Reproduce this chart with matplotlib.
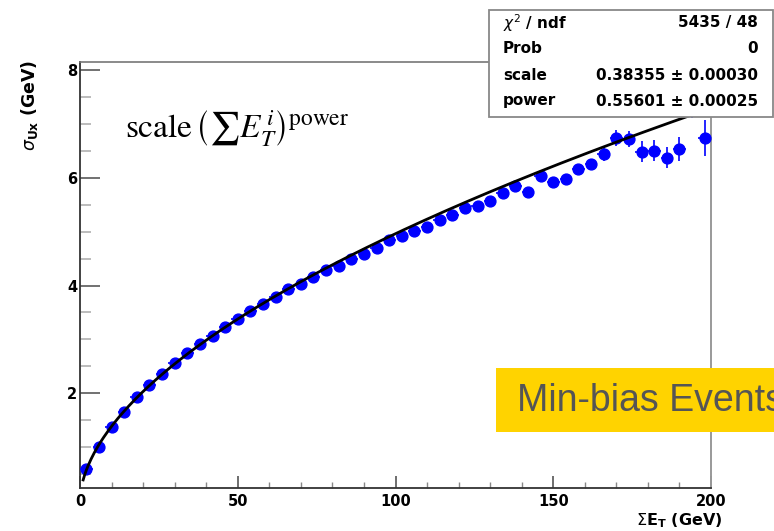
import matplotlib
matplotlib.use("Agg")
import matplotlib.pyplot as plt
import numpy as np
from matplotlib.patches import Rectangle
from matplotlib.ticker import MultipleLocator

# bin centres of sum E_T (GeV) and measured sigma_Ux (GeV)
sum_et = [2, 6, 10, 14, 18, 22, 26, 30, 34, 38,
          42, 46, 50, 54, 58, 62, 66, 70, 74, 78,
          82, 86, 90, 94, 98, 102, 106, 110, 114, 118,
          122, 126, 130, 134, 138, 142, 146, 150, 154, 158,
          162, 166, 170, 174, 178, 182, 186, 190, 194, 198]
sigma_ux = [0.59, 1.00, 1.36, 1.65, 1.92, 2.14, 2.35, 2.56, 2.74, 2.91,
            3.07, 3.23, 3.37, 3.52, 3.66, 3.78, 3.93, 4.02, 4.16, 4.29,
            4.37, 4.50, 4.58, 4.70, 4.85, 4.92, 5.02, 5.09, 5.22, 5.31,
            5.44, 5.47, 5.57, 5.73, 5.86, 5.74, 6.04, 5.93, 5.99, 6.16,
            6.26, 6.45, 6.74, 6.72, 6.49, 6.51, 6.38, 6.54, 7.38, 6.74]
sigma_err = [0.01, 0.01, 0.01, 0.01, 0.01, 0.01, 0.01, 0.01, 0.01, 0.01,
             0.01, 0.01, 0.01, 0.01, 0.02, 0.02, 0.02, 0.02, 0.02, 0.02,
             0.02, 0.02, 0.03, 0.03, 0.03, 0.03, 0.03, 0.04, 0.04, 0.04,
             0.04, 0.05, 0.05, 0.06, 0.06, 0.07, 0.07, 0.08, 0.08, 0.09,
             0.10, 0.13, 0.15, 0.15, 0.19, 0.19, 0.19, 0.23, 0.26, 0.33]
bin_half_width = 2

# fit result shown in the stats box
fit_scale = 0.38355
fit_power = 0.55601
stats_rows = [(r"$\chi^{2}$ / ndf", "5435 / 48"),
              ("Prob", "0"),
              ("scale", "0.38355 \u00b1 0.00030"),
              ("power", "0.55601 \u00b1 0.00025")]

W, H = 774, 531
fig = plt.figure(figsize=(W / 100, H / 100), dpi=100)
ax = fig.add_axes([80 / W, 43 / H, 631 / W, 426 / H])

ax.errorbar(sum_et, sigma_ux, yerr=sigma_err, xerr=bin_half_width,
            fmt="o", color="#0000ff", ecolor="#0000ff", markersize=7.8,
            elinewidth=1.2, capsize=0, zorder=3)

xfit = np.linspace(1, 200, 400)
ax.plot(xfit, fit_scale * xfit ** fit_power, color="black", lw=2.0, zorder=4)

ax.set_xlim(0, 200)
ax.set_ylim(0.233, 8.158)
ax.xaxis.set_major_locator(MultipleLocator(50))
ax.xaxis.set_minor_locator(MultipleLocator(10))
ax.yaxis.set_major_locator(MultipleLocator(2))
ax.yaxis.set_minor_locator(MultipleLocator(0.5))

ax.tick_params(axis="y", which="major", direction="in", length=14.4, width=1.3,
               color="#666666", pad=2, labelsize=10.5)
ax.tick_params(axis="y", which="minor", direction="in", length=7.7, width=1.1,
               color="#aaaaaa")
ax.tick_params(axis="x", which="major", direction="in", length=8.6, width=1.2,
               color="#555555", pad=4.5, labelsize=10.5)
ax.tick_params(axis="x", which="minor", direction="in", length=4.3, width=1.0,
               color="#888888")
for lab in ax.get_xticklabels() + ax.get_yticklabels():
    lab.set_fontweight("bold")
    lab.set_family("DejaVu Sans")

for side in ["left", "bottom"]:
    ax.spines[side].set_color("#333333")
    ax.spines[side].set_linewidth(1.3)
ax.spines["top"].set_color("#777777")
ax.spines["right"].set_color("#999999")
ax.spines["top"].set_linewidth(1.2)
ax.spines["right"].set_linewidth(1.4)

# axis titles, ROOT style
fig.text(30 / W, 1 - 60 / H, r"$\sigma_{\mathbf{Ux}}$ (GeV)", rotation=90,
         ha="center", va="top", fontsize=12.5, fontweight="bold")
fig.text(722 / W, 1 - 521 / H, r"$\Sigma$E$_{\mathbf{T}}$ (GeV)",
         ha="right", va="center", fontsize=11.5, fontweight="bold")

# fit formula
fig.text(237 / W, 1 - 129 / H,
         r"$\mathrm{scale}\,\left(\sum E_T^{\,i}\right)^{\mathrm{power}}$",
         ha="center", va="center", fontsize=24, math_fontfamily="stix")

# stats box
fig.add_artist(Rectangle((489 / W, 1 - 117 / H), 284 / W, 107 / H,
                         transform=fig.transFigure, facecolor="white",
                         edgecolor="#888888", lw=1.3, zorder=5))
row_y = [23, 48, 76, 101]
for (name, value), yy in zip(stats_rows, row_y):
    fig.text(503 / W, 1 - yy / H, name, ha="left", va="center",
             fontsize=11, fontweight="bold", zorder=6)
    fig.text(758 / W, 1 - yy / H, value, ha="right", va="center",
             fontsize=11, fontweight="bold", zorder=6)

# slide label (runs off the right edge, as on the original slide)
fig.add_artist(Rectangle((496 / W, 1 - 431.7 / H), 300 / W, 63.4 / H,
                         transform=fig.transFigure, facecolor="#ffd300",
                         edgecolor="none", zorder=5))
fig.text(517 / W, 1 - 401 / H, "Min-bias Events", ha="left", va="center",
         fontsize=27, family="Liberation Sans", color="#555555", zorder=6)

fig.savefig("out.png", dpi=100)
